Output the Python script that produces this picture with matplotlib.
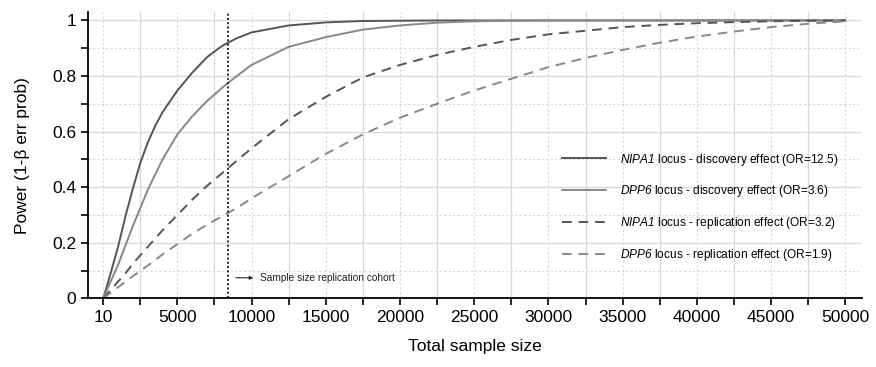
import matplotlib
matplotlib.use('Agg')
import matplotlib.pyplot as plt
from matplotlib.ticker import FixedLocator

plt.rcParams['font.family'] = ['Liberation Sans', 'DejaVu Sans']
plt.rcParams['mathtext.fontset'] = 'custom'
plt.rcParams['mathtext.rm'] = 'Liberation Sans'
# sf slot used for italic gene names (keeps digits italic too)
plt.rcParams['mathtext.sf'] = 'Liberation Sans:italic'

# sample sizes and power
sizes = [10, 500, 1000, 1500, 2000, 2500, 3000, 3500, 4000, 5000, 6000, 7000, 8000, 9000, 10000,
         12500, 15000, 17500, 20000, 22500, 25000, 27500, 30000, 32500, 35000, 37500, 40000,
         42500, 45000, 47500, 50000]

nipa1_disc = [0, 0.09, 0.185, 0.295, 0.395, 0.487, 0.56, 0.62, 0.67, 0.748, 0.812, 0.868, 0.908, 0.936, 0.957,
              0.982, 0.993, 0.998, 0.999, 1, 1, 1, 1, 1, 1, 1, 1, 1, 1, 1, 1]
dpp6_disc = [0, 0.06, 0.12, 0.19, 0.26, 0.325, 0.39, 0.445, 0.50, 0.59, 0.655, 0.71, 0.757, 0.80, 0.84,
             0.905, 0.94, 0.967, 0.982, 0.992, 0.997, 0.999, 1, 1, 1, 1, 1, 1, 1, 1, 1]
nipa1_rep = [0, 0.03, 0.06, 0.09, 0.125, 0.155, 0.185, 0.215, 0.245, 0.30, 0.355, 0.405, 0.45, 0.495, 0.54,
             0.645, 0.725, 0.795, 0.84, 0.876, 0.905, 0.93, 0.95, 0.963, 0.976, 0.984, 0.99,
             0.994, 0.997, 0.999, 1.0]
dpp6_rep = [0, 0.02, 0.04, 0.06, 0.08, 0.098, 0.118, 0.138, 0.158, 0.195, 0.233, 0.265, 0.295, 0.325, 0.36,
            0.44, 0.52, 0.59, 0.65, 0.70, 0.748, 0.79, 0.832, 0.865, 0.894, 0.92, 0.942,
            0.96, 0.976, 0.988, 0.997]

labels = [r'$\mathsf{NIPA1}$ locus - discovery effect (OR=12.5)',
          r'$\mathsf{DPP6}$ locus - discovery effect (OR=3.6)',
          r'$\mathsf{NIPA1}$ locus - replication effect (OR=3.2)',
          r'$\mathsf{DPP6}$ locus - replication effect (OR=1.9)']

replication_n = 8400
x_ticks = [10, 5000, 10000, 15000, 20000, 25000, 30000, 35000, 40000, 45000, 50000]
y_ticks = [0, 0.2, 0.4, 0.6, 0.8, 1]
y_ticklabels = ['0', '0.2', '0.4', '0.6', '0.8', '1']

fig = plt.figure(figsize=(8.76, 3.67), dpi=100)
ax = fig.add_axes([0.1005, 0.187, 0.8835, 0.78])

ax.plot(sizes, nipa1_disc, color='#555555', lw=1.4, label=labels[0])
ax.plot(sizes, dpp6_disc, color='#888888', lw=1.4, label=labels[1])
ax.plot(sizes, nipa1_rep, color='#555555', lw=1.4, ls=(0, (5, 3.5)), label=labels[2])
ax.plot(sizes, dpp6_rep, color='#888888', lw=1.4, ls=(0, (5, 3.5)), label=labels[3])

ax.axvline(replication_n, color='#222222', lw=1.4, ls=(0, (1, 1.2)))
ax.annotate('', xy=(10300, 0.074), xytext=(8750, 0.074),
            arrowprops=dict(arrowstyle='-|>', color='#222222', lw=0.8, mutation_scale=5))
ax.text(10550, 0.074, 'Sample size replication cohort', fontsize=7.3, va='center', color='#222222')

ax.set_xlim(-1020, 51130)
ax.set_ylim(0, 1.03)
ax.xaxis.set_major_locator(FixedLocator(x_ticks))
ax.xaxis.set_minor_locator(FixedLocator([2500 + 5000 * i for i in range(10)]))
ax.yaxis.set_major_locator(FixedLocator(y_ticks))
ax.yaxis.set_minor_locator(FixedLocator([0.1, 0.3, 0.5, 0.7, 0.9]))
ax.set_yticklabels(y_ticklabels)
ax.set_xticklabels([str(t) for t in x_ticks])

ax.grid(True, axis='x', which='major', color='#d8d8d8', lw=0.8, ls=(0, (2, 2)))
ax.grid(True, axis='x', which='minor', color='#d8d8d8', lw=0.9, ls='-')
ax.grid(True, axis='y', which='major', color='#d8d8d8', lw=0.9, ls='-')
ax.grid(True, axis='y', which='minor', color='#d8d8d8', lw=0.8, ls=(0, (2, 2)))
ax.set_axisbelow(True)

for s in ['top', 'right']:
    ax.spines[s].set_visible(False)
for s in ['left', 'bottom']:
    ax.spines[s].set_linewidth(1.3)
ax.tick_params(which='both', direction='out', length=5, width=1.2, labelsize=12.5)

ax.set_xlabel('Total sample size', fontsize=12.5, labelpad=10)
ax.set_ylabel('Power (1-\u03b2 err prob)', fontsize=12.5, labelpad=16)

ax.legend(loc='upper left', bbox_to_anchor=(0.598, 0.55), frameon=False, fontsize=8.6,
          handlelength=3.75, handletextpad=1.1, labelspacing=1.32)

fig.savefig('out.png', dpi=100)
